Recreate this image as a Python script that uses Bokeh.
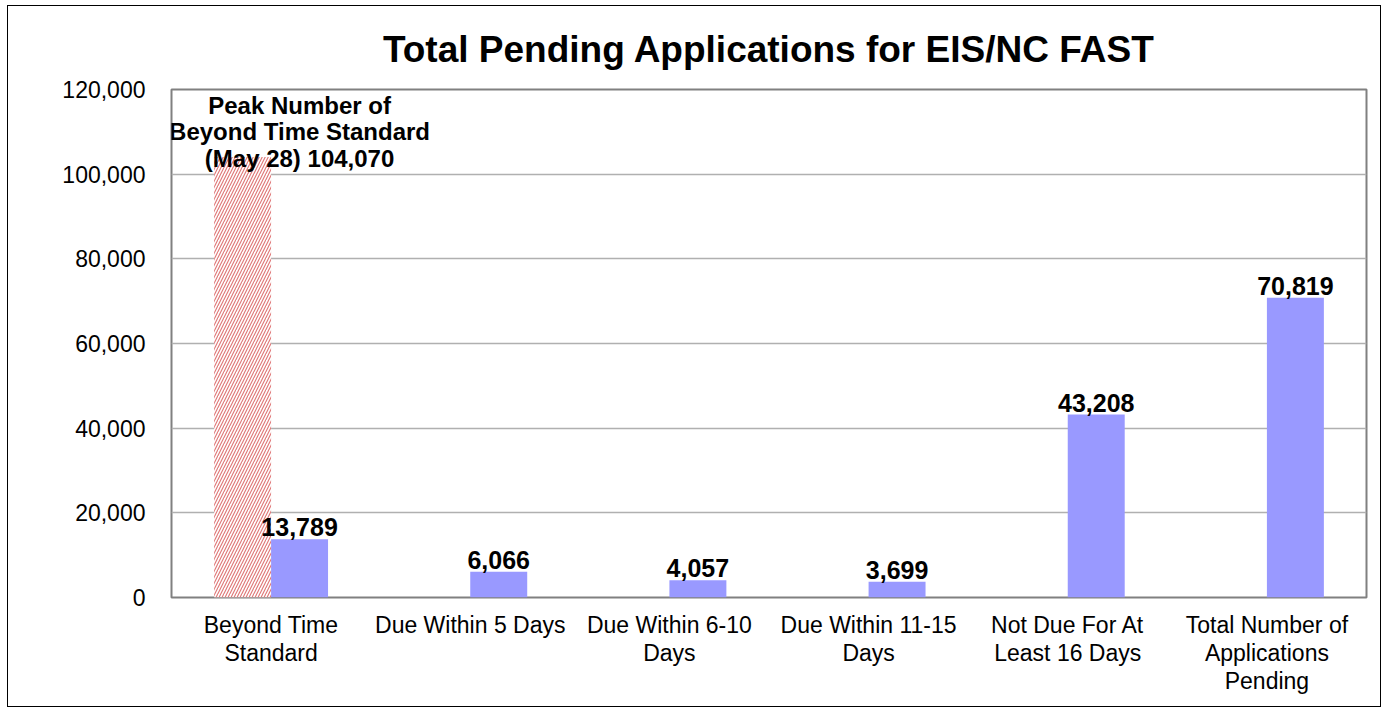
from bokeh.plotting import figure
from bokeh.models import ColumnDataSource, FactorRange, Range1d, FixedTicker, NumeralTickFormatter
from bokeh.transform import dodge
from bokeh.core.properties import value
from bokeh.embed import file_html
from bokeh.resources import INLINE

categories = ["Beyond Time\nStandard", "Due Within 5 Days", "Due Within 6-10\nDays",
              "Due Within 11-15\nDays", "Not Due For At\nLeast 16 Days",
              "Total Number of\nApplications\nPending"]
current_values = [13789, 6066, 4057, 3699, 43208, 70819]
peak_values = [104070, 0, 0, 0, 0, 0]
peak_label = "Peak Number of\nBeyond Time Standard\n(May 28) 104,070"
y_ticks = [0, 20000, 40000, 60000, 80000, 100000, 120000]
title_text = "Total Pending Applications for EIS/NC FAST"

FONT = "Liberation Sans"

src = ColumnDataSource(dict(
    cat=categories,
    cur=current_values,
    peak=peak_values,
    cur_lbl=[f"{v:,}" for v in current_values],
))

p = figure(x_range=FactorRange(*categories, range_padding=0),
           y_range=Range1d(0, 120000),
           width=1372, height=700,
           frame_width=1195, frame_height=508,
           min_border_left=163, min_border_top=83, min_border_right=14, min_border_bottom=109,
           output_backend="svg", toolbar_location=None, title=title_text)

p.styles = {"border": "1px solid black", "margin-left": "7px", "margin-top": "5px"}

p.title.text_font = FONT
p.title.text_font_size = "37px"
p.title.text_font_style = "bold"
p.title.text_color = "black"
p.title.align = "center"
p.title.offset = 12
p.title.standoff = 39

p.vbar(x=dodge("cat", -0.143, range=p.x_range), top="peak", width=0.286, source=src,
       fill_color="white", line_color=None,
       hatch_pattern="right_diagonal_line", hatch_color="#e07a7a",
       hatch_scale=6, hatch_weight=1.2)
p.vbar(x=dodge("cat", 0.143, range=p.x_range), top="cur", width=0.286, source=src,
       fill_color="#9999FF", line_color=None)

p.text(x=dodge("cat", 0.143, range=p.x_range), y="cur", text="cur_lbl", source=src,
       text_font=value(FONT), text_font_size="25px", text_font_style="bold",
       text_color="black", text_align="center", text_baseline="bottom", y_offset=-3)

peak_src = ColumnDataSource(dict(cat=[categories[0]], y=[peak_values[0]], t=[peak_label]))
p.text(x=dodge("cat", 0.143, range=p.x_range), y="y", text="t", source=peak_src,
       text_font=value(FONT), text_font_size="24px", text_font_style="bold",
       text_color="black", text_align="center", text_baseline="bottom", y_offset=15,
       text_line_height=0.98)

p.yaxis.ticker = FixedTicker(ticks=y_ticks)
p.yaxis.formatter = NumeralTickFormatter(format="0,0")
for ax in (p.xaxis, p.yaxis):
    ax.axis_line_color = None
    ax.major_tick_line_color = None
    ax.minor_tick_line_color = None
    ax.major_label_text_font = FONT
    ax.major_label_text_font_size = "23px"
    ax.major_label_text_color = "black"
p.yaxis.major_label_standoff = 20
p.xaxis.major_label_standoff = 8
p.xaxis.major_label_text_line_height = 1.08

p.xgrid.grid_line_color = None
p.ygrid.grid_line_color = "#b0b0b0"
p.ygrid.grid_line_width = 1.3

p.outline_line_color = "#808080"
p.outline_line_width = 2

open("out.html", "w").write(file_html(p, INLINE))
